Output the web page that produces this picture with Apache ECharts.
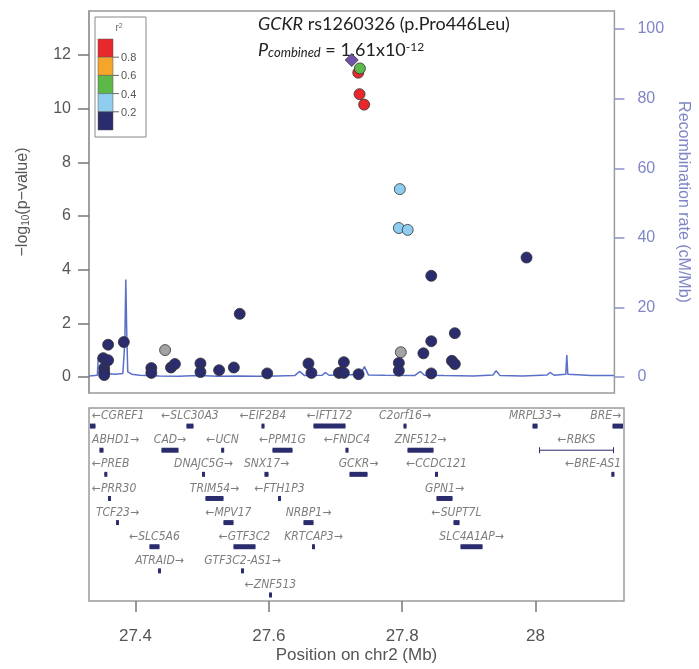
<!DOCTYPE html>
<html>
<head>
<meta charset="utf-8">
<script src="https://cdn.jsdelivr.net/npm/echarts@6/dist/echarts.min.js"></script>
<style>
html, body { margin: 0; padding: 0; background: #fff; }
#main { width: 699px; height: 669px; }
</style>
</head>
<body>
<div id="main"></div>
<script>
// axis ticks
const xTicks = [27.4, 27.6, 27.8, 28];
const logPTicks = [0, 2, 4, 6, 8, 10, 12];
const recTicks = [0, 20, 40, 60, 80, 100];

// r2 key
const r2Breaks = ['0.8', '0.6', '0.4', '0.2'];
const r2Colors = ['#e8282b', '#f5a52a', '#5cb848', '#8ecdee', '#2b2c6e'];

// SNPs by LD class: [position (Mb), -log10 p]
const snpNavy = [
  [27.352, 0.70], [27.3595, 1.20], [27.3595, 0.62], [27.3535, 0.33], [27.3535, 0.18],
  [27.3535, 0.07], [27.3835, 1.30], [27.4255, 0.33], [27.4255, 0.15], [27.4555, 0.35],
  [27.4615, 0.48], [27.5005, 0.50], [27.5005, 0.18], [27.529, 0.25], [27.5515, 0.35],
  [27.5605, 2.35], [27.6025, 0.13], [27.6655, 0.50], [27.670, 0.15], [27.712, 0.15],
  [27.716, 0.18], [27.7195, 0.55], [27.7195, 0.15], [27.742, 0.10], [27.8035, 0.52],
  [27.8035, 0.23], [27.841, 0.88], [27.853, 1.33], [27.853, 0.13], [27.853, 3.77],
  [27.8845, 0.60], [27.889, 0.48], [27.889, 1.63], [27.9985, 4.45]
];
const snpLightBlue = [[27.805, 7.0], [27.8035, 5.55], [27.817, 5.48]];
const snpGray = [[27.4465, 1.0], [27.8065, 0.92]];
const snpGreen = [[27.744, 11.5]];
const snpRed = [[27.7415, 11.34], [27.7435, 10.54], [27.7505, 10.15]];
const snpLead = [[27.7315, 11.81]];

// recombination rate (cM/Mb)
const recPos = [27.331, 27.343, 27.3445, 27.3475, 27.3535, 27.3565, 27.370, 27.382, 27.385, 27.3865,
  27.388, 27.3895, 27.3955, 27.4075, 27.4375, 27.4675, 27.4975, 27.5275, 27.5575, 27.5875,
  27.6175, 27.6445, 27.652, 27.6595, 27.6865, 27.691, 27.697, 27.7225, 27.745, 27.751,
  27.757, 27.7825, 27.8275, 27.8365, 27.8425, 27.8725, 27.9175, 27.9475, 27.952, 27.958,
  27.9925, 28.03, 28.0345, 28.0405, 28.0585, 28.06, 28.0615, 28.0975, 28.132];
const recRate = [0.3, 0.5, 5.5, 6.0, 3.5, 1.0, 0.8, 1.0, 10, 28,
  12, 1.5, 0.8, 0.5, 0.3, 0.2, 0.4, 0.2, 0.3, 0.2,
  0.3, 0.4, 1.6, 0.4, 0.5, 1.3, 0.5, 0.6, 0.8, 3.0,
  0.6, 0.5, 0.4, 1.6, 0.5, 0.4, 0.3, 0.6, 1.8, 0.4,
  0.3, 0.6, 1.3, 0.5, 0.8, 6.3, 0.8, 0.4, 0.4];

// genes: [name, start, end, strand, row]
const genes = [
  ['CGREF1', 27.330, 27.340, '-', 1], ['SLC30A3', 27.4765, 27.487, '-', 1],
  ['EIF2B4', 27.589, 27.5935, '-', 1], ['IFT172', 27.667, 27.715, '-', 1],
  ['C2orf16', 27.802, 27.8065, '+', 1], ['MRPL33', 27.9955, 28.003, '+', 1],
  ['BRE', 28.1155, 28.136, '+', 1],
  ['ABHD1', 27.346, 27.352, '+', 2], ['CAD', 27.439, 27.4645, '+', 2],
  ['UCN', 27.530, 27.5315, '-', 2], ['PPM1G', 27.6055, 27.6355, '-', 2],
  ['FNDC4', 27.716, 27.7185, '-', 2], ['ZNF512', 27.808, 27.847, '+', 2],
  ['RBKS', 28.006, 28.117, '-', 2],
  ['PREB', 27.3545, 27.3565, '-', 3], ['DNAJC5G', 27.5005, 27.5035, '+', 3],
  ['SNX17', 27.5935, 27.5995, '+', 3], ['GCKR', 27.721, 27.748, '+', 3],
  ['CCDC121', 27.8505, 27.8525, '-', 3], ['BRE-AS1', 28.115, 28.117, '-', 3],
  ['PRR30', 27.360, 27.362, '-', 4], ['TRIM54', 27.505, 27.532, '+', 4],
  ['FTH1P3', 27.6155, 27.6165, '-', 4], ['GPN1', 27.8515, 27.8755, '+', 4],
  ['TCF23', 27.372, 27.374, '+', 5], ['MPV17', 27.532, 27.547, '-', 5],
  ['NRBP1', 27.652, 27.667, '+', 5], ['SUPT7L', 27.877, 27.886, '-', 5],
  ['SLC5A6', 27.421, 27.436, '-', 6], ['GTF3C2', 27.547, 27.580, '-', 6],
  ['KRTCAP3', 27.666, 27.668, '+', 6], ['SLC4A1AP', 27.8875, 27.9205, '+', 6],
  ['ATRAID', 27.435, 27.437, '+', 7], ['GTF3C2-AS1', 27.560, 27.561, '+', 7],
  ['ZNF513', 27.6015, 27.6035, '-', 8]
];

const xMin = 27.3303, xMax = 28.1327;
const navy = '#2b2c6e';
const geneFont = 'italic 12px "Liberation Sans Narrow", "DejaVu Sans Condensed", sans-serif';
const measureCtx = document.createElement('canvas').getContext('2d');
measureCtx.font = geneFont;

function geneLabel(g) {
  return g[3] === '+' ? g[0] + '\u2192' : '\u2190' + g[0];
}

function renderGene(params, api) {
  const g = genes[params.dataIndex];
  const row = api.value(2) - 0.25;
  const p1 = api.coord([api.value(0), row]);
  const p2 = api.coord([api.value(1), row]);
  const cs = params.coordSys;
  const left = cs.x, right = cs.x + cs.width;
  let x1 = Math.max(p1[0], left + 1), x2 = Math.min(p2[0], right - 1);
  if (x2 - x1 < 3) { const c = (x1 + x2) / 2; x1 = c - 1.5; x2 = c + 1.5; }
  const y = p1[1];
  const label = geneLabel(g);
  const w = measureCtx.measureText(label).width;
  let cx = (p1[0] + p2[0]) / 2;
  cx = Math.min(Math.max(cx, left + 3 + w / 2), right - 3 - w / 2);
  const children = [
    { type: 'line', shape: { x1: x1, y1: y, x2: x2, y2: y }, style: { stroke: navy, lineWidth: 1 } },
    { type: 'text', style: { text: label, x: cx, y: y - 10, align: 'center', verticalAlign: 'middle', font: geneFont, fill: '#7d7d7d' } }
  ];
  if (api.value(1) - api.value(0) < 0.05) {
    children.push({ type: 'rect', shape: { x: x1, y: y - 2.5, width: x2 - x1, height: 5 }, style: { fill: navy } });
  } else {
    children.push({ type: 'line', shape: { x1: x1, y1: y - 3, x2: x1, y2: y + 3 }, style: { stroke: navy, lineWidth: 1 } });
    children.push({ type: 'line', shape: { x1: x2, y1: y - 3, x2: x2, y2: y + 3 }, style: { stroke: navy, lineWidth: 1 } });
  }
  return { type: 'group', children: children };
}

function snpSeries(data, color, symbol, size) {
  return {
    type: 'scatter', xAxisIndex: 0, yAxisIndex: 0, data: data,
    symbol: symbol || 'circle', symbolSize: size || 11, z: 3,
    itemStyle: { color: color, borderColor: '#333', borderWidth: 0.8, opacity: 1 }
  };
}

// r2 key drawn as graphic
const keyTop = 39, keyStep = 18.2;
const keyGraphic = [
  { type: 'rect', shape: { x: 95, y: 17, width: 51, height: 120 }, style: { fill: '#fff', stroke: '#888', lineWidth: 1 } },
  { type: 'text', style: { text: 'r{s|2}', x: 119, y: 28, align: 'center', verticalAlign: 'middle', font: '10px "Liberation Sans"', fill: '#666', rich: { s: { fontSize: 7, verticalAlign: 'top', fill: '#666' } } } }
];
r2Colors.forEach(function (c, i) {
  keyGraphic.push({ type: 'rect', shape: { x: 98, y: keyTop + i * keyStep, width: 15, height: keyStep }, style: { fill: c, stroke: '#555', lineWidth: 0.5 } });
});
r2Breaks.forEach(function (t, i) {
  const yy = keyTop + (i + 1) * keyStep;
  keyGraphic.push({ type: 'line', shape: { x1: 113, y1: yy, x2: 119, y2: yy }, style: { stroke: '#666', lineWidth: 1 } });
  keyGraphic.push({ type: 'text', style: { text: t, x: 121, y: yy + 1, verticalAlign: 'middle', font: '11px "Liberation Sans"', fill: '#555' } });
});

const option = {
  animation: false,
  backgroundColor: '#fff',
  grid: [
    { left: 89, top: 11, width: 535, height: 382, show: true, borderColor: '#9a9a9a', borderWidth: 1.5 },
    { left: 89, top: 408, width: 535, height: 193, show: true, borderColor: '#9a9a9a', borderWidth: 1.5 }
  ],
  xAxis: [
    { gridIndex: 0, type: 'value', min: xMin, max: xMax, show: false },
    {
      gridIndex: 1, type: 'value', min: xMin, max: xMax, position: 'bottom',
      axisLine: { show: false, onZero: false },
      axisTick: { show: true, length: 11, customValues: xTicks, lineStyle: { color: '#777', width: 1.5 } },
      axisLabel: { customValues: xTicks, margin: 27, fontSize: 17, color: '#555', fontFamily: 'Liberation Sans', formatter: function (v) { return String(v); } },
      splitLine: { show: false },
      name: 'Position on chr2 (Mb)', nameLocation: 'middle', nameGap: 46,
      nameTextStyle: { fontSize: 17, color: '#555', fontFamily: 'Liberation Sans' }
    }
  ],
  yAxis: [
    {
      gridIndex: 0, type: 'value', min: -0.6, max: 13.64, position: 'left',
      axisLine: { show: true, onZero: false, lineStyle: { color: '#9a9a9a', width: 1.5 } },
      axisTick: { show: true, length: 11, customValues: logPTicks, lineStyle: { color: '#777', width: 1.5 } },
      axisLabel: { customValues: logPTicks, margin: 18, fontSize: 16, color: '#555', fontFamily: 'Liberation Sans' },
      splitLine: { show: false },
      name: '\u2212log{sub|10}(p\u2212value)', nameLocation: 'middle', nameGap: 58, nameRotate: 90,
      nameTextStyle: { fontSize: 16, color: '#555', fontFamily: 'Liberation Sans', rich: { sub: { fontSize: 10, verticalAlign: 'bottom', color: '#555', fontFamily: 'Liberation Sans' } } }
    },
    {
      gridIndex: 0, type: 'value', min: -4.6, max: 105.2, position: 'right',
      axisLine: { show: false, onZero: false },
      axisTick: { show: true, length: 10, customValues: recTicks, lineStyle: { color: '#8a90c8', width: 1.5 } },
      axisLabel: { customValues: recTicks, margin: 23, fontSize: 16, color: '#7f86c6', fontFamily: 'Liberation Sans' },
      splitLine: { show: false },
      name: 'Recombination rate (cM/Mb)', nameLocation: 'middle', nameGap: 56, nameRotate: -90,
      nameTextStyle: { fontSize: 16, color: '#7f86c6', fontFamily: 'Liberation Sans' }
    },
    { gridIndex: 1, type: 'value', min: 0, max: 8, inverse: true, show: false }
  ],
  graphic: keyGraphic.concat([
    { type: 'text', style: { text: '{i|GCKR} rs1260326 (p.Pro446Leu)', x: 258, y: 24, verticalAlign: 'middle', font: '18px Lato', fill: '#222', rich: { i: { fontStyle: 'italic', fontSize: 18, fontFamily: 'Lato', fill: '#222' } } } },
    { type: 'text', style: { text: '{i|P}{sub|combined} = 1.61x10{sup|-12}', x: 258, y: 50, verticalAlign: 'middle', font: '18px Lato', fill: '#222', rich: { i: { fontStyle: 'italic', fontSize: 18, fontFamily: 'Lato', fill: '#222' }, sub: { fontStyle: 'italic', fontSize: 13, fontFamily: 'Lato', verticalAlign: 'bottom', fill: '#222' }, sup: { fontSize: 12, fontFamily: 'Lato', verticalAlign: 'top', fill: '#222' } } } }
  ]),
  series: [
    {
      type: 'line', xAxisIndex: 0, yAxisIndex: 1, z: 2,
      data: recPos.map(function (p, i) { return [p, recRate[i]]; }),
      showSymbol: false, lineStyle: { color: '#5a70c8', width: 1.5 }
    },
    snpSeries(snpNavy, navy),
    snpSeries(snpGray, '#a3a3a3'),
    snpSeries(snpLightBlue, '#8ecdee'),
    snpSeries(snpRed, '#e8282b'),
    snpSeries(snpGreen, '#5cb848'),
    snpSeries(snpLead, '#7052a8', 'diamond', 13),
    {
      type: 'custom', xAxisIndex: 1, yAxisIndex: 2, renderItem: renderGene,
      data: genes.map(function (g) { return [g[1], g[2], g[4]]; })
    }
  ]
};

const myChart = echarts.init(document.getElementById('main'));
myChart.setOption(option);
</script>
</body>
</html>
